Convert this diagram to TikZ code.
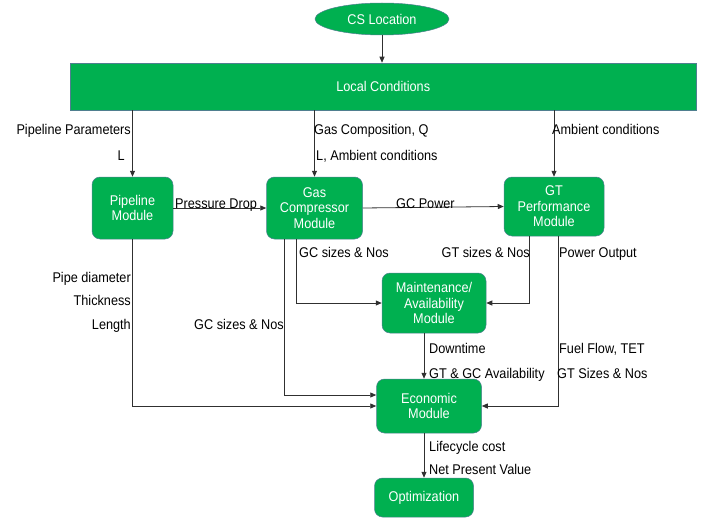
\documentclass[tikz,border=0pt]{standalone}
\usepackage{fontspec}
\setmainfont{Liberation Sans}[FakeStretch=0.9]
\usetikzlibrary{arrows.meta,shapes.geometric}
\definecolor{boxgreen}{HTML}{00B050}
\definecolor{boxedge}{HTML}{4F7F8F}
\definecolor{linec}{HTML}{303030}
\tikzset{
  base/.style={fill=boxgreen, draw=boxedge, line width=0.5pt, text=white, align=center,
    font=\fontsize{14.1}{15.4}\selectfont, inner sep=0pt},
  modbox/.style={base, rounded corners=8pt},
  arr/.style={draw=linec, line width=0.8pt, -{Triangle[length=6pt,width=5pt]}},
  lab/.style={inner sep=0pt, font=\fontsize{14.1}{15.4}\selectfont, text=black}
}
\begin{document}
\begin{tikzpicture}[x=1pt,y=-1pt]
\useasboundingbox (0,0) rectangle (702,519);
% nodes
\node[base, ellipse, minimum width=134pt, minimum height=32pt] (cs) at (382,19) {CS Location};
\node[base, rectangle, minimum width=625.5pt, minimum height=47pt] (lc) at (383.25,86.5) {Local Conditions};
\node[modbox, minimum width=81pt, minimum height=62pt] (pm) at (132.5,208) {Pipeline\\Module};
\node[modbox, minimum width=96pt, minimum height=62pt] (gc) at (314.5,208) {Gas\\Compressor\\Module};
\node[modbox, minimum width=100pt, minimum height=59pt] (gt) at (554,206.5) {GT\\Performance\\Module};
\node[modbox, minimum width=104pt, minimum height=60pt] (mt) at (434,303) {Maintenance/\\Availability\\Module};
\node[modbox, minimum width=105pt, minimum height=54pt] (eco) at (429,406) {Economic\\Module};
\node[modbox, minimum width=99pt, minimum height=39pt] (opt) at (424,497.5) {Optimization};
% connectors
\draw[arr] (cs.south) -- (cs.south |- lc.north);
\draw[arr] (pm.north |- lc.south) -- (pm.north);
\draw[arr] (gc.north |- lc.south) -- (gc.north);
\draw[arr] (gt.north |- lc.south) -- (gt.north);
\draw[arr] (pm.east) -- (pm.east -| gc.west);
\draw[arr] (gc.east) -- (gt.west);
\draw[arr] ([xshift=-18.5pt]gc.south) |- (mt.west);
\draw[arr] ([xshift=-25pt]gt.south) |- (mt.east);
\draw[arr] ([xshift=4pt]gt.south) |- (eco.east);
\draw[arr] (pm.south) |- (eco.west);
\draw[arr] ([xshift=-30.5pt]gc.south) |- ([yshift=11pt]eco.west);
\draw[arr] ([xshift=-10pt]mt.south) -- ([xshift=-5pt]eco.north);
\draw[arr] ([xshift=-5pt]eco.south) -- (opt.north);
% labels
\node[lab, anchor=base east] (l1) at (131,135) {Pipeline Parameters};
\node[lab, anchor=base east] (l2) at (125,160) {L};
\node[lab, anchor=base west] (l3) at (314,135) {Gas Composition, Q};
\node[lab, anchor=base west] (l4) at (316,160) {L, Ambient conditions};
\node[lab, anchor=base west] (l5) at (552,135) {Ambient conditions};
\node[lab, anchor=base west] (l6) at (175,208) {Pressure Drop};
\node[lab, anchor=base west] (l7) at (396,208) {GC Power};
\node[lab, anchor=base west] (l8) at (299,257) {GC sizes \& Nos};
\node[lab, anchor=base east] (l9) at (530,257) {GT sizes \& Nos};
\node[lab, anchor=base west] (l10) at (559,257) {Power Output};
\node[lab, anchor=base east] (l11) at (131,282) {Pipe diameter};
\node[lab, anchor=base east] (l12) at (131,305) {Thickness};
\node[lab, anchor=base east] (l13) at (131,329) {Length};
\node[lab, anchor=base east] (l14) at (284,329) {GC sizes \& Nos};
\node[lab, anchor=base west] (l15) at (429,353) {Downtime};
\node[lab, anchor=base west] (l16) at (429,378) {GT \& GC Availability};
\node[lab, anchor=base west] (l17) at (559,353) {Fuel Flow, TET};
\node[lab, anchor=base west] (l18) at (557,378) {GT Sizes \& Nos};
\node[lab, anchor=base west] (l19) at (429,451) {Lifecycle cost};
\node[lab, anchor=base west] (l20) at (429,474) {Net Present Value};
\end{tikzpicture}
\end{document}
